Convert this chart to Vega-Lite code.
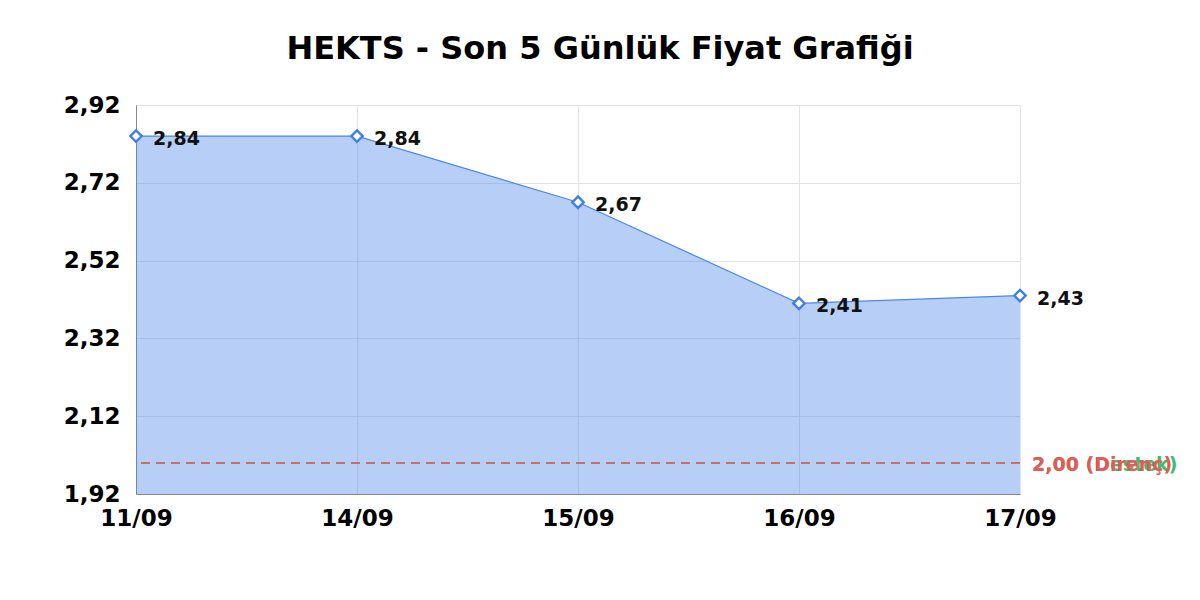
{
  "$schema": "https://vega.github.io/schema/vega-lite/v6.json",
  "autosize": {"type": "none"},
  "width": 884,
  "height": 389,
  "padding": {"left": 136, "top": 105, "right": 180, "bottom": 106},
  "background": "white",
  "config": {
    "font": "DejaVu Sans",
    "view": {"stroke": null},
    "locale": {"number": {"decimal": ",", "thousands": ".", "grouping": [3], "currency": ["", " TL"]}},
    "axis": {
      "labelFont": "DejaVu Sans",
      "labelFontWeight": "bold",
      "labelFontSize": 23,
      "labelColor": "#000",
      "gridColor": "#e3e3e3",
      "ticks": false,
      "domainColor": "#888",
      "title": null
    }
  },
  "title": {
    "text": "HEKTS - Son 5 Günlük Fiyat Grafiği",
    "font": "DejaVu Sans",
    "fontSize": 32,
    "fontWeight": "bold",
    "color": "#000",
    "dx": 22,
    "offset": 28
  },
  "datasets": {
    "prices": [
      {"date": "11/09", "price": 2.84},
      {"date": "14/09", "price": 2.84},
      {"date": "15/09", "price": 2.67},
      {"date": "16/09", "price": 2.41},
      {"date": "17/09", "price": 2.43}
    ],
    "levels": [
      {"level": 2.00, "label": "2,00 (Destek)", "kind": "Destek"},
      {"level": 2.00, "label": "2,00 (Direnç)", "kind": "Direnç"}
    ]
  },
  "layer": [
    {
      "data": {"name": "prices"},
      "mark": {"type": "area", "color": "#4a86e8", "opacity": 0.4},
      "encoding": {
        "x": {"field": "date", "type": "ordinal", "sort": null, "scale": {"padding": 0},
              "axis": {"labelAngle": 0, "labelPadding": 13, "grid": true, "domain": true}},
        "y": {"field": "price", "type": "quantitative",
              "scale": {"domain": [1.92, 2.92], "zero": false, "nice": false},
              "axis": {"values": [1.92, 2.12, 2.32, 2.52, 2.72, 2.92], "format": ".2f", "labelPadding": 16}},
        "y2": {"datum": 1.92}
      }
    },
    {
      "data": {"name": "prices"},
      "mark": {"type": "line", "color": "#4a86e8", "strokeWidth": 1.2},
      "encoding": {
        "x": {"field": "date", "type": "ordinal", "sort": null},
        "y": {"field": "price", "type": "quantitative"}
      }
    },
    {
      "data": {"name": "levels"},
      "mark": {"type": "rule", "strokeDash": [9, 6], "strokeWidth": 1.5},
      "encoding": {
        "y": {"field": "level", "type": "quantitative"},
        "color": {"field": "kind", "type": "nominal", "legend": null,
                  "scale": {"domain": ["Destek", "Direnç"], "range": ["#36c26a", "#e8585a"]}}
      }
    },
    {
      "data": {"name": "prices"},
      "mark": {"type": "point", "shape": "diamond", "filled": true, "fill": "white", "stroke": "#3f7fe8", "strokeWidth": 2.4, "size": 130, "opacity": 1},
      "encoding": {
        "x": {"field": "date", "type": "ordinal", "sort": null},
        "y": {"field": "price", "type": "quantitative"}
      }
    },
    {
      "data": {"name": "prices"},
      "mark": {"type": "text", "align": "left", "baseline": "middle", "dx": 17, "dy": 3, "fontSize": 19, "fontWeight": "bold", "color": "#111"},
      "encoding": {
        "x": {"field": "date", "type": "ordinal", "sort": null},
        "y": {"field": "price", "type": "quantitative"},
        "text": {"field": "price", "type": "quantitative", "format": ".2f"}
      }
    },
    {
      "data": {"name": "levels"},
      "mark": {"type": "text", "align": "left", "baseline": "middle", "dx": 12, "dy": 2, "fontSize": 19, "fontWeight": "bold"},
      "encoding": {
        "x": {"datum": "17/09", "type": "ordinal"},
        "y": {"field": "level", "type": "quantitative"},
        "text": {"field": "label"},
        "color": {"field": "kind", "type": "nominal", "legend": null}
      }
    }
  ]
}
